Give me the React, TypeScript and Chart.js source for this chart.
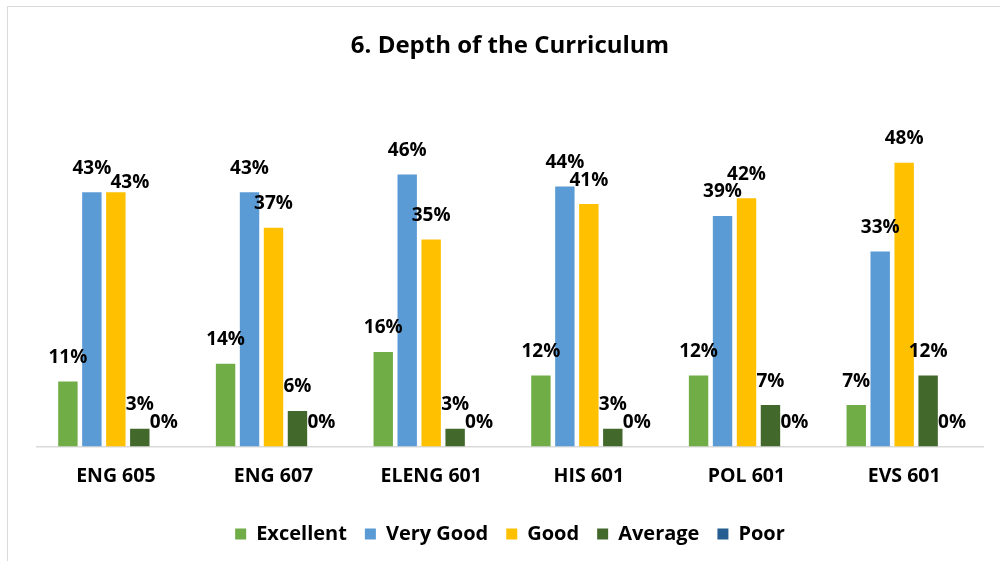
import React, { useEffect, useRef } from "react";
import { Chart, registerables } from "chart.js";

Chart.register(...registerables);

const categories = ["ENG 605", "ENG 607", "ELENG 601", "HIS 601", "POL 601", "EVS 601"];
const excellent = [11, 14, 16, 12, 12, 7];
const veryGood = [43, 43, 46, 44, 39, 33];
const good = [43, 37, 35, 41, 42, 48];
const average = [3, 6, 3, 3, 7, 12];
const poor = [0, 0, 0, 0, 0, 0];
const seriesNames = ["Excellent", "Very Good", "Good", "Average", "Poor"];
const seriesColors = ["#70AD47", "#5B9BD5", "#FFC000", "#43682B", "#255E91"];
const titleText = "6. Depth of the Curriculum";

const FONT = "'Open Sans', 'Liberation Sans', sans-serif";

const labelPlugin = {
  id: "barLabels",
  afterDatasetsDraw(chart: any) {
    const ctx = chart.ctx;
    ctx.save();
    ctx.font = `bold 19px ${FONT}`;
    ctx.fillStyle = "#000";
    ctx.textAlign = "center";
    ctx.textBaseline = "middle";
    const nGroups = chart.data.labels.length;
    for (let g = 0; g < nGroups; g++) {
      const placed: { x: number; y: number; w: number; h: number }[] = [];
      chart.data.datasets.forEach((ds: any, di: number) => {
        const meta = chart.getDatasetMeta(di);
        const el = meta.data[g];
        if (!el) return;
        const text = ds.data[g] + "%";
        const w = ctx.measureText(text).width;
        const h = 14;
        let x = el.x;
        let y = el.y - 24;
        const overlaps = (bx: number, by: number) =>
          placed.some(
            (p) => Math.abs(p.x - bx) < (p.w + w) / 2 && Math.abs(p.y - by) < (p.h + h) / 2
          );
        if (overlaps(x, y)) {
          x += 14;
          y += 14;
        }
        placed.push({ x, y, w, h });
        ctx.fillText(text, x, y);
      });
    }
    ctx.restore();
  },
};

const framePlugin = {
  id: "frame",
  afterDraw(chart: any) {
    const ctx = chart.ctx;
    ctx.save();
    ctx.strokeStyle = "#d9d9d9";
    ctx.lineWidth = 1;
    ctx.beginPath();
    ctx.moveTo(7.5, chart.height);
    ctx.lineTo(7.5, 6.5);
    ctx.lineTo(chart.width, 6.5);
    ctx.stroke();
    ctx.restore();
  },
};

export default function App() {
  const ref = useRef<HTMLCanvasElement>(null);
  useEffect(() => {
    if (!ref.current) return;
    const seriesData = [excellent, veryGood, good, average, poor];
    const chart = new Chart(ref.current, {
      type: "bar",
      data: {
        labels: categories,
        datasets: seriesData.map((d, i) => ({
          label: seriesNames[i],
          data: d,
          backgroundColor: seriesColors[i],
          borderWidth: 0,
          categoryPercentage: 0.76,
          barPercentage: 0.81,
        })),
      },
      options: {
        animation: false,
        responsive: false,
        maintainAspectRatio: false,
        layout: { padding: { left: 37, right: 17, top: 22, bottom: 7 } },
        plugins: {
          title: {
            display: true,
            text: titleText,
            color: "#000",
            font: { family: FONT, size: 24, weight: "bold" },
            padding: { top: 10, bottom: 31 },
          },
          legend: {
            position: "bottom",
            labels: {
              color: "#000",
              font: { family: FONT, size: 20, weight: "bold" },
              boxWidth: 11,
              boxHeight: 11,
              padding: 18,
            },
          },
          tooltip: { enabled: false },
        },
        scales: {
          x: {
            grid: { display: false, drawTicks: false },
            border: { color: "#d9d9d9", width: 1.5 },
            ticks: {
              color: "#000",
              padding: 20,
              font: { family: FONT, size: 19.5, weight: "bold", lineHeight: 1.0 },
            },
          },
          y: {
            display: false,
            min: 0,
            max: 60,
          },
        },
      },
      plugins: [labelPlugin, framePlugin],
    });
    return () => chart.destroy();
  }, []);
  return (
    <div style={{ position: "fixed", left: 0, top: 0, width: 1000, height: 561, background: "#fff" }}>
      <canvas ref={ref} width={1000} height={561} style={{ width: 1000, height: 561 }} />
    </div>
  );
}
